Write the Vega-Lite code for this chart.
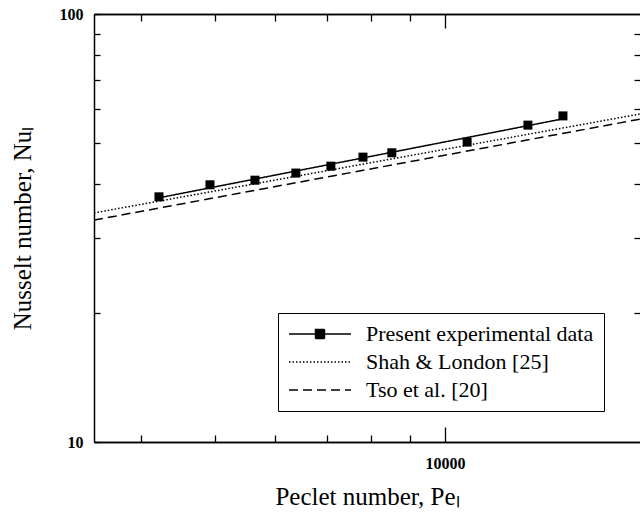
{
  "$schema": "https://vega.github.io/schema/vega-lite/v6.json",
  "width": 546,
  "height": 428,
  "autosize": {"type": "none"},
  "padding": {"left": 94, "top": 14, "right": 0, "bottom": 73},
  "background": "white",
  "config": {
    "view": {"stroke": null},
    "font": "Liberation Serif",
    "axis": {
      "domainColor": "black",
      "domainWidth": 1.5,
      "tickColor": "black",
      "tickWidth": 1.3,
      "grid": false,
      "labelFont": "Liberation Serif",
      "labelFontWeight": "bold",
      "labelFontSize": 16,
      "labelColor": "black",
      "labelFlush": false,
      "labelOverlap": false,
      "titleFont": "Liberation Serif",
      "titleFontWeight": "normal",
      "titleFontSize": 25,
      "titleColor": "black"
    }
  },
  "data": {
    "values": [
      {"series": "Present experimental data", "kind": "data", "Pe": 4223, "Nu": 37.4},
      {"series": "Present experimental data", "kind": "data", "Pe": 4925, "Nu": 39.9},
      {"series": "Present experimental data", "kind": "data", "Pe": 5640, "Nu": 40.9},
      {"series": "Present experimental data", "kind": "data", "Pe": 6380, "Nu": 42.5},
      {"series": "Present experimental data", "kind": "data", "Pe": 7090, "Nu": 44.1},
      {"series": "Present experimental data", "kind": "data", "Pe": 7810, "Nu": 46.3},
      {"series": "Present experimental data", "kind": "data", "Pe": 8520, "Nu": 47.4},
      {"series": "Present experimental data", "kind": "data", "Pe": 10690, "Nu": 50.2},
      {"series": "Present experimental data", "kind": "data", "Pe": 12840, "Nu": 55.0},
      {"series": "Present experimental data", "kind": "data", "Pe": 14270, "Nu": 57.8},
      {"series": "Present experimental data", "kind": "fit", "Pe": 4223, "Nu": 37.2},
      {"series": "Present experimental data", "kind": "fit", "Pe": 14270, "Nu": 56.9},
      {"series": "Shah & London [25]", "kind": "fit", "Pe": 3472, "Nu": 34.3},
      {"series": "Shah & London [25]", "kind": "fit", "Pe": 18000, "Nu": 58.4},
      {"series": "Tso et al. [20]", "kind": "fit", "Pe": 3472, "Nu": 33.0},
      {"series": "Tso et al. [20]", "kind": "fit", "Pe": 18000, "Nu": 56.8}
    ]
  },
  "layer": [
    {
      "transform": [{"filter": "datum.kind === 'fit'"}],
      "mark": {"type": "line", "color": "black", "strokeWidth": 1.5, "clip": true},
      "encoding": {
        "x": {
          "field": "Pe", "type": "quantitative",
          "scale": {"type": "log", "domain": [3472, 18000], "nice": false},
          "axis": {"orient": "bottom", "values": [4000, 5000, 6000, 7000, 8000, 9000], "labels": false, "tickSize": -7, "title": null}
        },
        "y": {
          "field": "Nu", "type": "quantitative",
          "scale": {"type": "log", "domain": [10, 100], "nice": false},
          "axis": {
            "orient": "left",
            "values": [10, 20, 30, 40, 50, 60, 70, 80, 90, 100],
            "tickSize": -6,
            "labelPadding": 17,
            "labelExpr": "datum.value == 10 || datum.value == 100 ? datum.value + '' : ''",
            "title": "Nusselt number, Nuₗ",
            "titlePadding": 24
          }
        },
        "detail": {"field": "series"},
        "strokeDash": {
          "field": "series", "type": "nominal",
          "scale": {
            "domain": ["Present experimental data", "Shah & London [25]", "Tso et al. [20]"],
            "range": [[1, 0], [1.5, 2], [9, 5]]
          },
          "legend": {
            "title": null,
            "orient": "none",
            "legendX": 184,
            "legendY": 299,
            "strokeColor": "black",
            "padding": 10,
            "rowPadding": 6,
            "labelFont": "Liberation Serif",
            "labelFontSize": 22,
            "labelColor": "black",
            "labelOffset": 56,
            "labelLimit": 400,
            "symbolType": "M-1,0H5.2",
            "symbolSize": 400,
            "symbolStrokeColor": "black",
            "symbolStrokeWidth": 1.5,
            "encode": {
              "symbols": {
                "update": {
                  "shape": {"signal": "datum.value === 'Present experimental data' ? 'M-1,0H5.2M1.65,-0.45H2.55V0.45H1.65Z' : 'M-1,0H5.2'"},
                  "fill": {"value": "black"},
                  "stroke": {"value": "black"},
                  "strokeWidth": {"value": 1.5}
                }
              }
            }
          }
        }
      }
    },
    {
      "transform": [{"filter": "datum.kind === 'data'"}],
      "mark": {"type": "square", "color": "black", "filled": true, "opacity": 1, "size": 81},
      "encoding": {
        "x": {
          "field": "Pe", "type": "quantitative",
          "axis": {"orient": "top", "values": [4000, 5000, 6000, 7000, 8000, 9000], "labels": false, "tickSize": -7, "title": null}
        },
        "y": {
          "field": "Nu", "type": "quantitative",
          "axis": {"orient": "right", "values": [20, 30, 40, 50, 60, 70, 80, 90], "labels": false, "domain": false, "tickSize": -6, "title": null}
        }
      }
    },
    {
      "transform": [{"filter": "datum.kind === 'data'"}],
      "mark": {"type": "point", "opacity": 0},
      "encoding": {
        "x": {
          "field": "Pe", "type": "quantitative",
          "axis": {
            "orient": "bottom", "values": [10000], "tickSize": -15,
            "labelPadding": 28, "labelDx": 7,
            "labelExpr": "'10000'",
            "title": "Peclet number, Peₗ",
            "titlePadding": 13
          }
        },
        "y": {"field": "Nu", "type": "quantitative", "axis": null}
      }
    },
    {
      "transform": [{"filter": "datum.kind === 'data'"}],
      "mark": {"type": "point", "opacity": 0},
      "encoding": {
        "x": {
          "field": "Pe", "type": "quantitative",
          "axis": {"orient": "top", "values": [10000], "tickSize": -14, "labels": false, "title": null}
        },
        "y": {"field": "Nu", "type": "quantitative", "axis": null}
      }
    }
  ],
  "resolve": {"axis": {"x": "independent", "y": "independent"}}
}
